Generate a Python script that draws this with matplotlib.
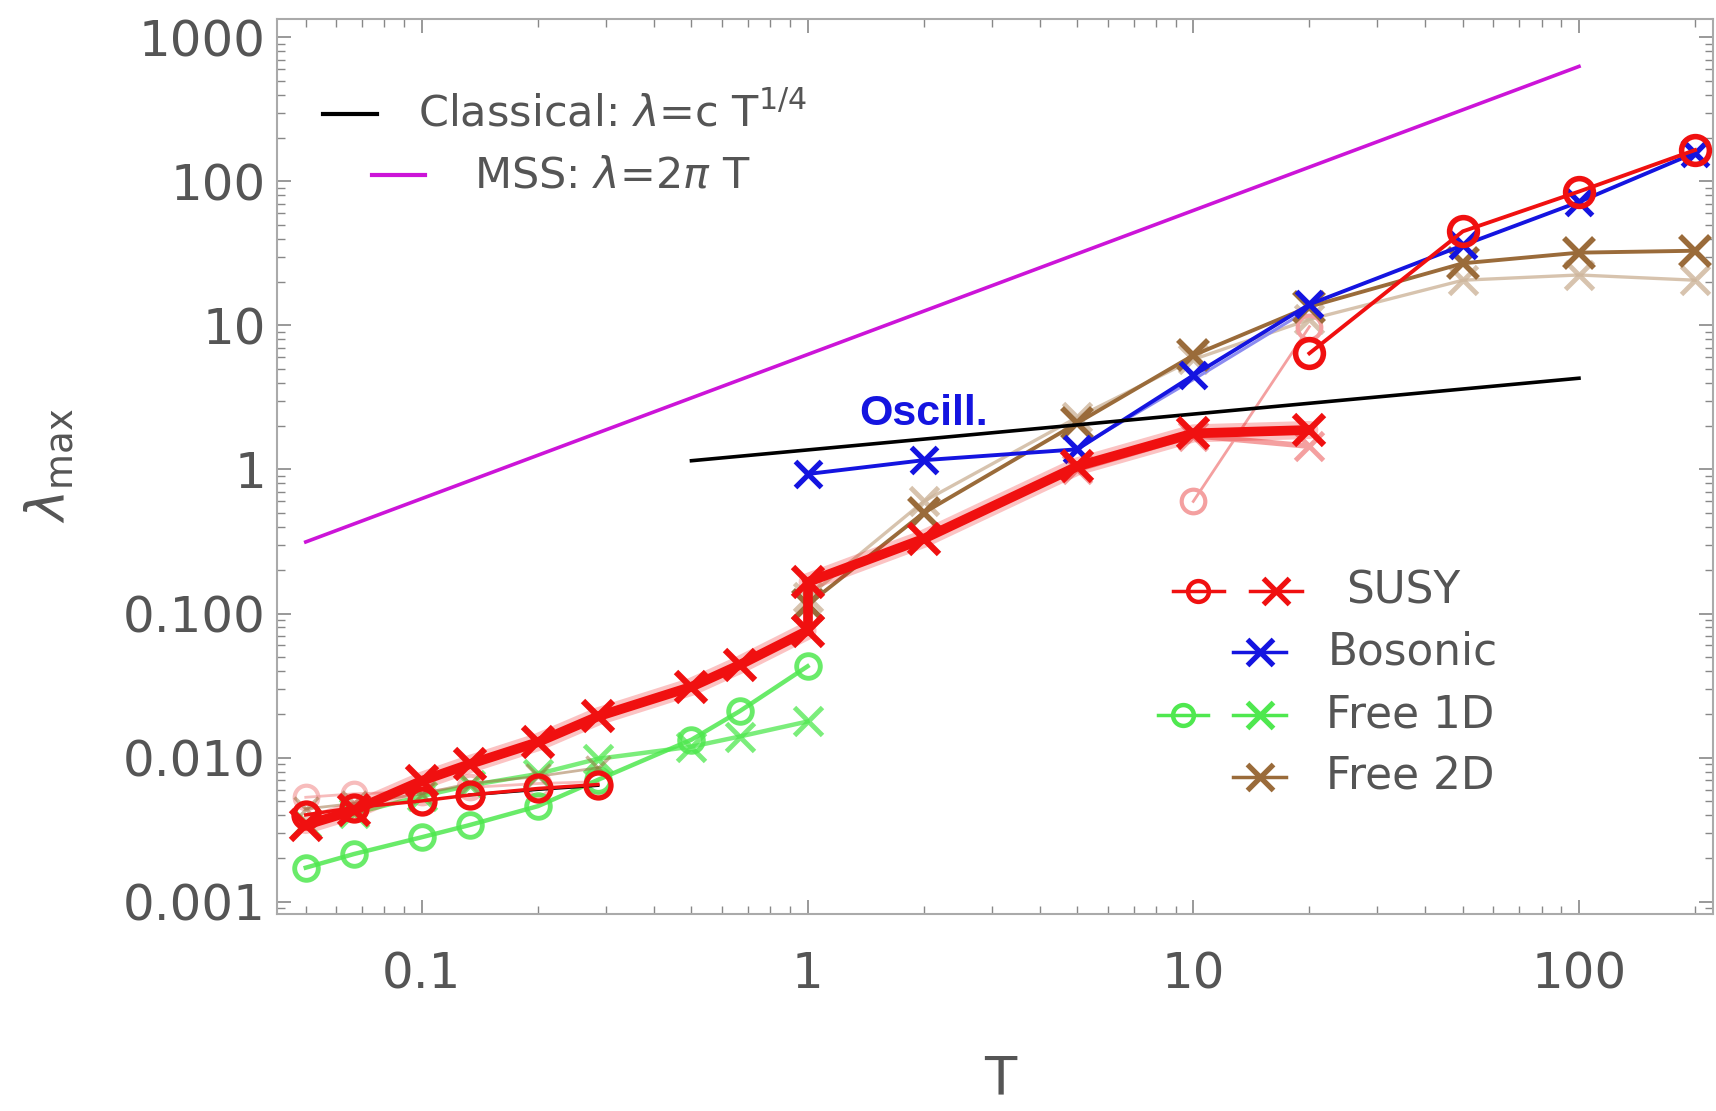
import numpy as np
import matplotlib
matplotlib.use("Agg")
import matplotlib.pyplot as plt
from matplotlib.ticker import FixedLocator, LogLocator, NullFormatter

# temperature grids
T_low = [0.05, 0.0667, 0.1, 0.133, 0.2, 0.286]
T_mid = [0.05, 0.0667, 0.1, 0.133, 0.2, 0.286, 0.5, 0.667, 1]
T_high = [1, 2, 5, 10, 20]
T_hot = [20, 50, 100, 200]
T_bos = [1, 2, 5, 10, 20, 50, 100, 200]

# reference lines (endpoints)
classical_T = [0.5, 100]
classical_lam = [1.15, 4.3]
mss_T = [0.05, 100]
mss_lam = [0.314, 628]

# SUSY
susy_x_low = [0.0034, 0.0043, 0.0069, 0.0090, 0.0128, 0.0193, 0.031, 0.044, 0.076]
susy_x_high = [0.165, 0.33, 1.05, 1.78, 1.88]
susy_x_pale_T = [5, 10, 20]
susy_x_pale = [1.0, 1.72, 1.45]
susy_o_low = [0.0040, 0.0045, 0.0050, 0.0055, 0.0061, 0.0065]
susy_o_low_pale = [0.0053, 0.0056, 0.0058, 0.0062, 0.0066, 0.0068]
susy_o_hot = [6.4, 45, 85, 165]
susy_o_pale_T = [10, 20]
susy_o_pale = [0.6, 9.8]
dark_low_T = [0.133, 0.2, 0.286]
dark_low = [0.0055, 0.0060, 0.0064]

# Bosonic
bos_x = [0.93, 1.16, 1.38, 4.5, 14, 36, 72, 158]
bos_x_pale_T = [5, 10, 20]
bos_x_pale = [1.4, 4.2, 13]

# Free 1D
free1d_o = [0.00172, 0.00214, 0.0028, 0.0034, 0.0046, 0.0070, 0.0133, 0.021, 0.043]
free1d_x = [0.0035, 0.0041, 0.0054, 0.0064, 0.0077, 0.0098, 0.0119, 0.0140, 0.0178]

# Free 2D
free2d_x = [0.115, 0.50, 2.1, 6.2, 13.5, 27, 32, 33]
free2d_x_pale = [0.13, 0.6, 2.3, 5.8, 11, 20.6, 22.4, 20.6]
free2d_x_low = [0.0044, 0.0048, 0.0056, 0.0066, 0.0074, 0.0085]

ytick_vals = [0.001, 0.01, 0.1, 1, 10, 100, 1000]
ytick_labels = ["0.001", "0.010", "0.100", "1", "10", "100", "1000"]
xtick_vals = [0.1, 1, 10, 100]
xtick_labels = ["0.1", "1", "10", "100"]

RED = "#f01010"
PINK = "#f4a0a0"
BLUE = "#1414e0"
GREEN = "#4fe84f"
BROWN = "#9a6b3a"
TAN = "#cdb59a"
MAGENTA = "#cc14d8"
GRAY = "#555555"

plt.rcParams['font.family'] = ['DejaVu Sans']
plt.rcParams['mathtext.fontset'] = 'dejavusans'

fig = plt.figure(figsize=(17.16, 11.11), dpi=100)
ax = fig.add_axes([0.1614, 0.1773, 0.8366, 0.806])
ax.set_xscale('log')
ax.set_yscale('log')
ax.set_xlim(0.0421, 222)
ax.set_ylim(0.00082, 1350)

# reference lines
ax.plot(mss_T, mss_lam, '-', color=MAGENTA, lw=2.6, zorder=2)
ax.plot(classical_T, classical_lam, '-', color='black', lw=2.6, zorder=6)

# faint copies
ax.plot(T_bos, free2d_x_pale, '-x', color=TAN, lw=2.4, ms=20, mew=3.5, alpha=0.8, zorder=2)
ax.plot(bos_x_pale_T, bos_x_pale, '-', color='#8c8cf0', lw=2.2, zorder=2)
ax.plot(susy_o_pale_T, susy_o_pale, '-o', color=PINK, lw=2, ms=17, mew=3,
        mfc='none', zorder=2)
ax.plot(susy_x_pale_T, susy_x_pale, '-x', color=PINK, lw=4, ms=20, mew=3.5, zorder=2)
ax.plot(T_low, susy_o_low_pale, '-o', color=PINK, lw=2, ms=17, mew=3,
        mfc='none', alpha=0.7, zorder=2)

# Free 1D
ax.plot(T_mid, free1d_x, '-x', color=GREEN, lw=3.2, ms=20, mew=3.5, alpha=0.75, zorder=3)
ax.plot(T_mid, free1d_o, '-o', color=GREEN, lw=3.2, ms=17, mew=3.5, mfc='none',
        alpha=0.85, zorder=3)

# Free 2D
ax.plot(T_low, free2d_x_low, '-x', color=BROWN, lw=2, ms=17, mew=2.5, alpha=0.5, zorder=3)
ax.plot(T_bos, free2d_x, '-x', color=BROWN, lw=2.8, ms=21, mew=4, zorder=4)

# Bosonic
ax.plot(T_bos, bos_x, '-x', color=BLUE, lw=2.8, ms=19, mew=3.8, zorder=5)

# SUSY
ax.plot(dark_low_T, dark_low, '-', color='black', lw=2.2, zorder=6)
for T, lam in ((T_mid, susy_x_low), (T_high, susy_x_high)):
    ax.plot(T, lam, '-', color=RED, lw=13, alpha=0.25, solid_capstyle='round', zorder=6)
    ax.plot(T, lam, '-x', color=RED, lw=7, ms=22, mew=4.5, zorder=7)
ax.plot([1, 1], [susy_x_low[-1], susy_x_high[0]], '-', color=RED, lw=7, zorder=7)
ax.plot(T_low, susy_o_low, '-o', color=RED, lw=2.5, ms=18, mew=3.8, mfc='none', zorder=8)
ax.plot(T_hot, susy_o_hot, '-o', color=RED, lw=2.8, ms=20, mew=4, mfc='none', zorder=8)

ax.text(1.36, 2.44, "Oscill.", color=BLUE, fontsize=31, fontweight='bold',
        family='Liberation Sans', ha='left', va='center', zorder=9)

# axes styling
for s in ax.spines.values():
    s.set_color('#aaaaaa')
    s.set_linewidth(1.5)
ax.yaxis.set_major_locator(FixedLocator(ytick_vals))
ax.set_yticklabels(ytick_labels)
ax.xaxis.set_major_locator(FixedLocator(xtick_vals))
ax.set_xticklabels(xtick_labels)
ax.xaxis.set_minor_locator(LogLocator(base=10, subs=np.arange(2, 10)))
ax.yaxis.set_minor_locator(LogLocator(base=10, subs=np.arange(2, 10)))
ax.xaxis.set_minor_formatter(NullFormatter())
ax.yaxis.set_minor_formatter(NullFormatter())
ax.tick_params(which='both', direction='in', top=True, right=True, color='#888888')
ax.tick_params(which='major', length=10, width=1.2, labelsize=36, labelcolor=GRAY, pad=8)
ax.tick_params(which='minor', length=6, width=1.0)
ax.tick_params(axis='x', which='major', pad=26)

fig.text(0.0285, 0.581, r'$\lambda_{\rm max}$', rotation=90, fontsize=38,
         color=GRAY, ha='center', va='center')
fig.text(0.583, 0.028, "T", fontsize=38, color=GRAY, ha='center', va='center')

# upper-left legend
tr = ax.transAxes
ax.plot([0.0319, 0.070], [0.8936, 0.8936], '-', color='black', lw=3, transform=tr)
ax.text(0.2339, 0.8936, r'Classical: $\lambda$=c T$^{1/4}$', transform=tr,
        fontsize=31, color=GRAY, ha='center', va='center')
ax.plot([0.0662, 0.1029], [0.8252, 0.8252], '-', color=MAGENTA, lw=3, transform=tr)
ax.text(0.2339, 0.8252, r'MSS: $\lambda$=2$\pi$ T', transform=tr,
        fontsize=31, color=GRAY, ha='center', va='center')

# lower-right legend
def sample(x0, x1, y, color, marker, ms, mew):
    ax.plot([x0, x1], [y, y], '-', color=color, lw=2.5, transform=tr, zorder=10)
    ax.plot([(x0 + x1) / 2], [y], marker, color=color, ms=ms, mew=mew,
            mfc='none', transform=tr, zorder=10)

sample(0.6243, 0.6594, 0.3606, RED, 'o', 15, 3.2)
sample(0.6777, 0.7143, 0.3606, RED, 'x', 19, 3.8)
ax.text(0.7447, 0.3606, "SUSY", transform=tr, fontsize=31.5, color=GRAY, va='center')
sample(0.6662, 0.7028, 0.2922, BLUE, 'x', 19, 3.8)
ax.text(0.7317, 0.2922, "Bosonic", transform=tr, fontsize=31.5, color=GRAY, va='center')
sample(0.6136, 0.6487, 0.2225, GREEN, 'o', 15, 3.2)
sample(0.6662, 0.7028, 0.2225, GREEN, 'x', 19, 3.8)
ax.text(0.7310, 0.2225, "Free 1D", transform=tr, fontsize=31.5, color=GRAY, va='center')
sample(0.6662, 0.7028, 0.1528, BROWN, 'x', 19, 3.8)
ax.text(0.7310, 0.1528, "Free 2D", transform=tr, fontsize=31.5, color=GRAY, va='center')

fig.savefig("out.png", dpi=100)
